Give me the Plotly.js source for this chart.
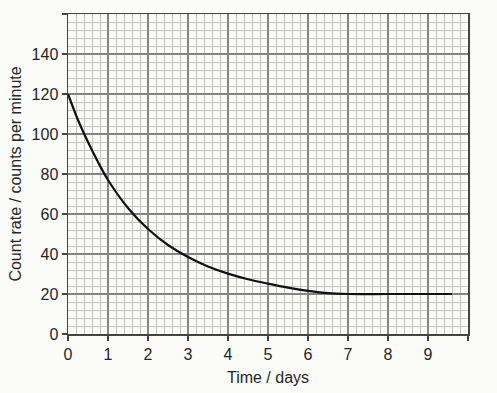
<!DOCTYPE html>
<html>
<head>
<meta charset="utf-8">
<script src="https://cdn.plot.ly/plotly-3.0.1.min.js"></script>
<style>html,body{margin:0;padding:0;background:#fbfbfa;}#chart{width:497px;height:393px;}</style>
</head>
<body>
<div id="chart"></div>
<script>
const timeDays = [0, 0.25, 0.5, 0.75, 1, 1.5, 2, 2.5, 3, 3.5, 4, 4.5, 5, 5.5, 6, 6.5, 7, 8, 9, 9.6];
const countRate = [120, 107, 96, 86, 77, 63, 52.5, 44.5, 38.5, 33.8, 30.2, 27.4, 25.2, 23.2, 21.6, 20.4, 20, 20, 20, 20];
const xTickVals = [0, 1, 2, 3, 4, 5, 6, 7, 8, 9, 10];
const xTickText = ['0', '1', '2', '3', '4', '5', '6', '7', '8', '9', ''];
const yTickVals = [0, 20, 40, 60, 80, 100, 120, 140, 160];
const yTickText = ['0', '20', '40', '60', '80', '100', '120', '140', ''];

// minor graph-paper grid: 5 squares per major division, majors excluded
const xMinor = [];
for (let i = 0; i <= 50; i++) if (i % 5) xMinor.push(i / 5);
const yMinor = [];
for (let i = 0; i <= 40; i++) if (i % 5) yMinor.push(i * 4);

const font = {family: 'Liberation Sans, Arial, sans-serif', size: 16, color: '#262626'};

Plotly.newPlot('chart', [{
  x: timeDays, y: countRate, type: 'scatter', mode: 'lines',
  line: {color: '#111', width: 2.2, shape: 'spline', smoothing: 0.9},
  hoverinfo: 'skip'
}], {
  width: 497, height: 393,
  margin: {l: 68, r: 29, t: 14, b: 59},
  paper_bgcolor: '#fbfbfa', plot_bgcolor: '#fbfbfa',
  showlegend: false,
  font: font,
  xaxis: {
    range: [0, 10], tickmode: 'array', tickvals: xTickVals, ticktext: xTickText,
    showgrid: true, gridcolor: '#858585', gridwidth: 1.2,
    minor: {tickmode: 'array', tickvals: xMinor, showgrid: true, gridcolor: '#c4c4c4', gridwidth: 1, ticks: ''},
    showline: true, linecolor: '#444', linewidth: 1.5, mirror: true,
    ticks: 'outside', ticklen: 5, tickcolor: '#444', tickwidth: 1.2,
    zeroline: false, automargin: false,
    title: {text: 'Time / days', font: font, standoff: 10}
  },
  yaxis: {
    range: [0, 160], tickmode: 'array', tickvals: yTickVals, ticktext: yTickText,
    showgrid: true, gridcolor: '#858585', gridwidth: 1.2,
    minor: {tickmode: 'array', tickvals: yMinor, showgrid: true, gridcolor: '#c4c4c4', gridwidth: 1, ticks: ''},
    showline: true, linecolor: '#444', linewidth: 1.5, mirror: true,
    ticks: 'outside', ticklen: 5, tickcolor: '#444', tickwidth: 1.2,
    zeroline: false, automargin: false,
    title: {text: 'Count rate / counts per minute', font: font, standoff: 6}
  }
}, {staticPlot: true});
</script>
</body>
</html>
